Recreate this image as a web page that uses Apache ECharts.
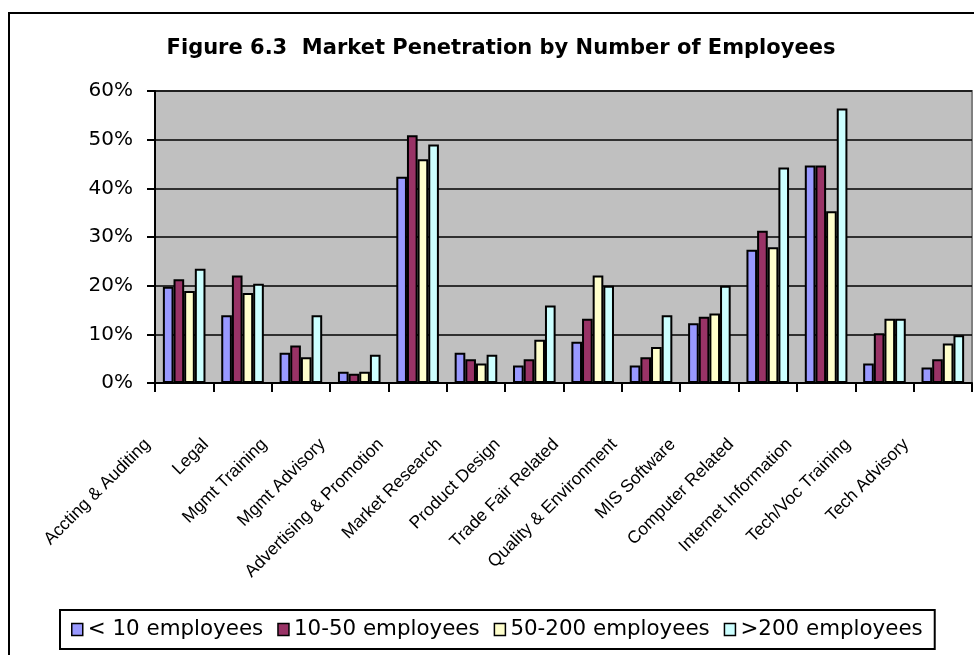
<!DOCTYPE html>
<html>
<head>
<meta charset="utf-8">
<script src="https://cdn.jsdelivr.net/npm/echarts@6/dist/echarts.min.js"></script>
<style>html,body{margin:0;padding:0;background:#fff;}#c{width:974px;height:655px;}</style>
</head>
<body>
<div id="c"></div>
<script>
const categories = ['Accting & Auditing','Legal','Mgmt Training','Mgmt Advisory','Advertising & Promotion','Market Research','Product Design','Trade Fair Related','Quality & Environment','MIS Software','Computer Related','Internet Information','Tech/Voc Training','Tech Advisory'];
const seriesNames = ['< 10 employees','10-50 employees','50-200 employees','>200 employees'];
const lt10 =    [19.8, 13.9, 6.2, 2.3, 42.4, 6.2, 3.6, 8.5, 3.6, 12.3, 27.4, 44.7, 4.0, 3.2];
const s10_50 =  [21.3, 22.1, 7.7, 1.9, 50.9, 4.9, 4.9, 13.2, 5.3, 13.6, 31.3, 44.7, 10.2, 4.9];
const s50_200 = [18.9, 18.5, 5.3, 2.3, 46.0, 4.0, 8.9, 22.1, 7.4, 14.3, 27.9, 35.3, 13.2, 8.1];
const gt200 =   [23.5, 20.4, 13.9, 5.8, 49.0, 5.8, 15.9, 20.0, 13.9, 20.0, 44.3, 56.4, 13.2, 9.8];
const yTicks = {min: 0, max: 60, interval: 10};
const colors = ['#9999FF', '#993366', '#FFFFCC', '#CCFFFF'];

const chart = echarts.init(document.getElementById('c'), null, {renderer: 'canvas'});
const allData = [lt10, s10_50, s50_200, gt200];
chart.setOption({
  animation: false,
  backgroundColor: '#ffffff',
  title: {
    text: 'Figure 6.3  Market Penetration by Number of Employees',
    left: 496, top: 33, textAlign: 'center',
    textStyle: {fontFamily: 'DejaVu Sans', fontWeight: 'bold', fontSize: 21, color: '#000'}
  },
  graphic: [{
    type: 'rect', shape: {x: 9, y: 13, width: 1100, height: 800},
    style: {fill: 'none', stroke: '#000', lineWidth: 2}, silent: true, z: -1
  }],
  legend: {
    data: seriesNames,
    left: 60, top: 610,
    padding: [9, 12, 9, 11],
    borderColor: '#000', borderWidth: 2,
    itemWidth: 11, itemHeight: 12, itemGap: 14,
    icon: 'rect',
    itemStyle: {borderColor: '#000', borderWidth: 1.5},
    textStyle: {fontFamily: 'DejaVu Sans', fontSize: 21.4, color: '#000'}
  },
  grid: {
    left: 155, top: 91, right: 2, bottom: 272,
    show: true, backgroundColor: '#C0C0C0', borderColor: '#808080', borderWidth: 2,
    containLabel: false
  },
  xAxis: {
    type: 'category', data: categories,
    axisLine: {lineStyle: {color: '#000', width: 2}},
    axisTick: {show: true, length: 9, lineStyle: {color: '#000', width: 2}},
    axisLabel: {
      rotate: 45, interval: 0, margin: 22, padding: [0, 52, 0, 0],
      fontFamily: 'Liberation Sans', fontSize: 17.5, color: '#000'
    }
  },
  yAxis: {
    type: 'value', min: yTicks.min, max: yTicks.max, interval: yTicks.interval,
    axisLine: {show: true, lineStyle: {color: '#000', width: 2}},
    axisTick: {show: true, length: 8, lineStyle: {color: '#000', width: 2}},
    axisLabel: {formatter: '{value}%', margin: 22, fontFamily: 'DejaVu Sans', fontSize: 20, color: '#000'},
    splitLine: {show: true, lineStyle: {color: '#000', width: 1.5}}
  },
  series: seriesNames.map((n, i) => ({
    name: n, type: 'bar', data: allData[i],
    barGap: '0%', barCategoryGap: '27%',
    itemStyle: {color: colors[i], borderColor: '#000', borderWidth: 2}
  }))
});
</script>
</body>
</html>
